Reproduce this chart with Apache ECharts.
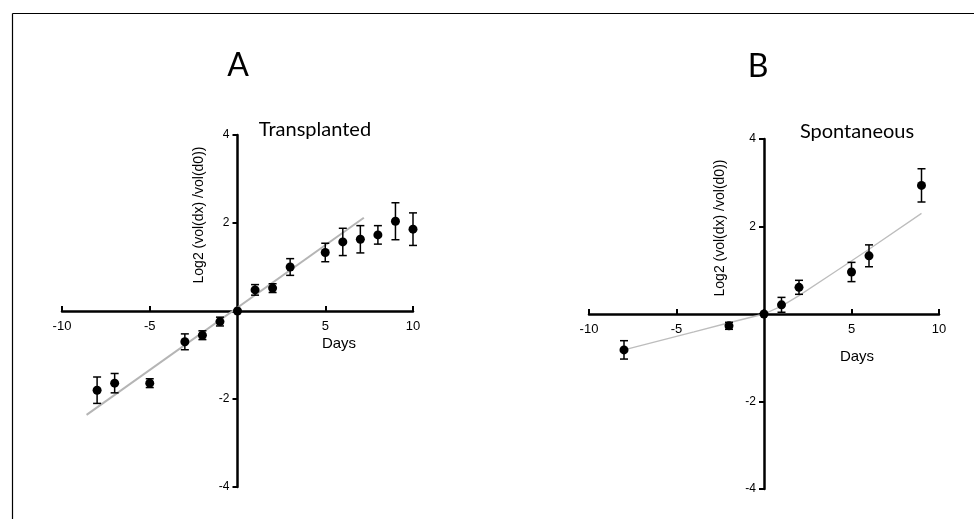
<!DOCTYPE html>
<html>
<head>
<meta charset="utf-8">
<script src="https://cdn.jsdelivr.net/npm/echarts@6/dist/echarts.min.js"></script>
<style>
html, body { margin: 0; padding: 0; background: #fff; }
#main { width: 974px; height: 519px; }
</style>
</head>
<body>
<div id="main"></div>
<script>
// panel A - transplanted
var daysA = [-8, -7, -5, -3, -2, -1, 0, 1, 2, 3, 5, 6, 7, 8, 9, 10];
var meanA = [-1.80, -1.64, -1.64, -0.70, -0.55, -0.24, 0, 0.48, 0.52, 1.00, 1.33, 1.57, 1.63, 1.73, 2.04, 1.86];
var semA = [0.30, 0.22, 0.10, 0.18, 0.10, 0.10, 0, 0.12, 0.10, 0.19, 0.21, 0.31, 0.31, 0.21, 0.42, 0.37];
var fitXA = [-8.6, 7.2];
var fitYA = [-2.36, 2.12];

// panel B - spontaneous
var daysB = [-8, -2, 0, 1, 2, 5, 6, 9];
var meanB = [-0.82, -0.27, 0, 0.21, 0.61, 0.96, 1.33, 2.94];
var semB = [0.21, 0.08, 0, 0.17, 0.16, 0.22, 0.25, 0.38];
var fitXB = [-8, -4, -2, 0, 1, 2, 4, 6, 9];
var fitYB = [-0.82, -0.41, -0.20, 0, 0.18, 0.42, 0.95, 1.48, 2.30];

// labelled ticks (0 is left blank)
var xTicks = [-10, -5, 5, 10];
var yTicks = [-4, -2, 2, 4];

var yName = 'Log2 (vol(dx) /vol(d0))';
var labelFont = '"Liberation Sans", Arial, sans-serif';
var titleFont = 'Lato, "Open Sans", sans-serif';

var grids = [
	{ left: 62, top: 135, width: 351, height: 352 },
	{ left: 589, top: 139, width: 350, height: 350 }
];

function pairs(xs, ys) {
	return xs.map(function (x, i) { return [x, ys[i]]; });
}

function triples(xs, ys, es) {
	return xs.map(function (x, i) { return [x, ys[i], es[i]]; });
}

// axes cross at zero: shift them into the middle of the grid so labels follow
function xAxisOf(idx) {
	return {
		type: 'value',
		gridIndex: idx,
		min: -10,
		max: 10,
		interval: 5,
		position: 'bottom',
		offset: -grids[idx].height / 2,
		axisLine: { onZero: false, lineStyle: { color: '#000', width: 2.5 } },
		axisTick: { inside: true, length: 5, lineStyle: { color: '#000', width: 2 } },
		axisLabel: {
			color: '#000',
			fontSize: 13,
			fontFamily: labelFont,
			margin: 9,
			formatter: function (v) { return xTicks.indexOf(v) >= 0 ? String(v) : ''; }
		},
		splitLine: { show: false }
	};
}

function yAxisOf(idx) {
	return {
		type: 'value',
		gridIndex: idx,
		min: -4,
		max: 4,
		interval: 2,
		position: 'left',
		offset: -grids[idx].width / 2,
		axisLine: { onZero: false, lineStyle: { color: '#000', width: 2.5 } },
		axisTick: { length: 5, lineStyle: { color: '#000', width: 2 } },
		axisLabel: {
			color: '#000',
			fontSize: 12,
			fontFamily: labelFont,
			margin: 8,
			formatter: function (v) { return yTicks.indexOf(v) >= 0 ? String(v) : ''; }
		},
		splitLine: { show: false }
	};
}

//误差线
function errorBar(params, api) {
	var x = api.value(0), m = api.value(1), e = api.value(2);
	if (!e) {
		return;
	}
	var hi = api.coord([x, m + e]);
	var lo = api.coord([x, m - e]);
	var w = 4;
	var st = { stroke: '#000', lineWidth: 1.5 };
	return {
		type: 'group',
		children: [
			{ type: 'line', shape: { x1: hi[0], y1: hi[1], x2: lo[0], y2: lo[1] }, style: st },
			{ type: 'line', shape: { x1: hi[0] - w, y1: hi[1], x2: hi[0] + w, y2: hi[1] }, style: st },
			{ type: 'line', shape: { x1: lo[0] - w, y1: lo[1], x2: lo[0] + w, y2: lo[1] }, style: st }
		]
	};
}

function text(str, x, y, font, rot) {
	return {
		type: 'text',
		x: x,
		y: y,
		rotation: rot || 0,
		style: { text: str, font: font, fill: '#000', textAlign: 'center', textVerticalAlign: 'middle' }
	};
}

var myChart = echarts.init(document.getElementById('main'));
myChart.setOption({
	animation: false,
	backgroundColor: '#fff',
	grid: grids,
	xAxis: [xAxisOf(0), xAxisOf(1)],
	yAxis: [yAxisOf(0), yAxisOf(1)],
	graphic: [
		{ type: 'line', shape: { x1: 12.5, y1: 13.5, x2: 974, y2: 13.5 }, style: { stroke: '#000', lineWidth: 1.2 } },
		{ type: 'line', shape: { x1: 12.5, y1: 13.5, x2: 12.5, y2: 519 }, style: { stroke: '#000', lineWidth: 1.2 } },
		text('A', 238, 66, '32px ' + titleFont),
		text('B', 758, 67, '32px ' + titleFont),
		text('Transplanted', 315, 130, '20px ' + titleFont),
		text('Spontaneous', 857, 132, '20px ' + titleFont),
		text(yName, 199, 215, '14px ' + labelFont, Math.PI / 2),
		text(yName, 720, 228, '14px ' + labelFont, Math.PI / 2),
		text('Days', 339, 344, '15px ' + labelFont),
		text('Days', 857, 357, '15px ' + labelFont)
	],
	series: [
		{
			type: 'line', xAxisIndex: 0, yAxisIndex: 0,
			data: pairs(fitXA, fitYA), showSymbol: false,
			lineStyle: { color: '#b5b5b5', width: 2 }, z: 1
		},
		{
			type: 'line', xAxisIndex: 1, yAxisIndex: 1,
			data: pairs(fitXB, fitYB), showSymbol: false,
			lineStyle: { color: '#bdbdbd', width: 1.3 }, z: 1
		},
		{
			type: 'custom', xAxisIndex: 0, yAxisIndex: 0,
			data: triples(daysA, meanA, semA), renderItem: errorBar, z: 3
		},
		{
			type: 'custom', xAxisIndex: 1, yAxisIndex: 1,
			data: triples(daysB, meanB, semB), renderItem: errorBar, z: 3
		},
		{
			type: 'scatter', xAxisIndex: 0, yAxisIndex: 0,
			data: pairs(daysA, meanA), symbolSize: 9,
			itemStyle: { color: '#000', opacity: 1 }, z: 4
		},
		{
			type: 'scatter', xAxisIndex: 1, yAxisIndex: 1,
			data: pairs(daysB, meanB), symbolSize: 9,
			itemStyle: { color: '#000', opacity: 1 }, z: 4
		}
	]
});
</script>
</body>
</html>
